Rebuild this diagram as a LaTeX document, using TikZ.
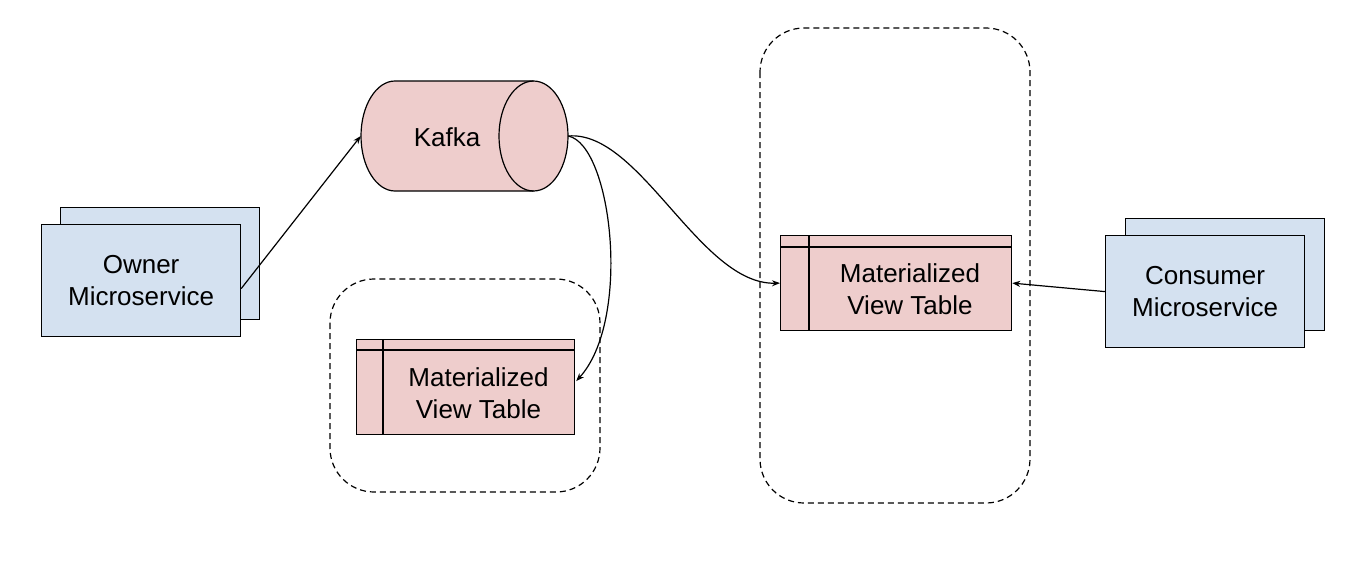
\documentclass[tikz,border=0pt]{standalone}
\usepackage{fontspec}
\setmainfont{Liberation Sans}
\usetikzlibrary{arrows.meta,calc}
\definecolor{svcblue}{HTML}{D4E1F0}
\definecolor{tblpink}{HTML}{EECDCC}
\begin{document}
\begin{tikzpicture}[x=0.75pt,y=-0.75pt,
  outline/.style={draw=black,line width=0.9pt},
  svc/.style={outline,fill=svcblue,minimum width=149.25pt,minimum height=84pt,inner sep=0pt},
  tbl/.style={outline,fill=tblpink,inner sep=0pt},
  lbl/.style={align=center,font=\fontsize{19.5}{24}\selectfont,inner sep=0pt},
  grp/.style={draw=black,line width=0.9pt,dash pattern=on 4.5pt off 3pt,rounded corners=33pt},
  conn/.style={line width=0.9pt,-{Stealth[length=6pt,width=4.5pt]}}]
\useasboundingbox (0,0) rectangle (1357,561);
% groups
\draw[grp] (330,279) rectangle (600,492);
\draw[grp] (760,28) rectangle (1030,503);
% owner microservice
\node[svc,anchor=north west] (ownerback) at (60,207) {};
\node[svc,anchor=north west] (owner) at (41,224) {};
\node[lbl] (ownertext) at (owner.center) {Owner\\Microservice};
% consumer microservice
\node[svc,anchor=north west] (consback) at (1125,218) {};
\node[svc,anchor=north west] (cons) at (1105,235) {};
\node[lbl] (constext) at (cons.center) {Consumer\\Microservice};
% kafka cylinder
\node[minimum width=155.25pt,minimum height=82.5pt,inner sep=0pt] (kafka) at (464.5,136) {};
\filldraw[outline,fill=tblpink] (395,81) -- (533.5,81)
  arc[start angle=-90,end angle=90,x radius=34.5,y radius=55] -- (395,191)
  arc[start angle=90,end angle=270,x radius=34,y radius=55] -- cycle;
\draw[outline] (533.5,81) arc[start angle=-90,end angle=-270,x radius=34.5,y radius=55];
\node[lbl] (kafkatext) at (447,137) {Kafka};
% small table
\node[tbl,anchor=north west,minimum width=163.5pt,minimum height=71.25pt] (t1) at (356,339) {};
\draw[outline] ($(t1.north west)+(0,11)$) -- ($(t1.north east)+(0,11)$);
\draw[outline] ($(t1.north west)+(27,0)$) -- ($(t1.south west)+(27,0)$);
\node[lbl] (t1text) at (478.5,393) {Materialized\\View Table};
% big table
\node[tbl,anchor=north west,minimum width=173.25pt,minimum height=71.25pt] (t2) at (780,235) {};
\draw[outline] ($(t2.north west)+(0,12)$) -- ($(t2.north east)+(0,12)$);
\draw[outline] ($(t2.north west)+(29,0)$) -- ($(t2.south west)+(29,0)$);
\node[lbl] (t2text) at (910,289) {Materialized\\View Table};
% connectors
\draw[conn] ($(owner.east)+(0,8)$) -- (kafka.west);
\draw[conn] (kafka.east) .. controls (612,145) and (632,320) .. ($(t1.east)+(1,-6)$);
\draw[conn] (kafka.east) .. controls (640,130) and (700,285) .. ($(t2.west)+(0,0)$);
\draw[conn] (cons.west) -- ($(t2.east)+(0,0)$);
\end{tikzpicture}
\end{document}
